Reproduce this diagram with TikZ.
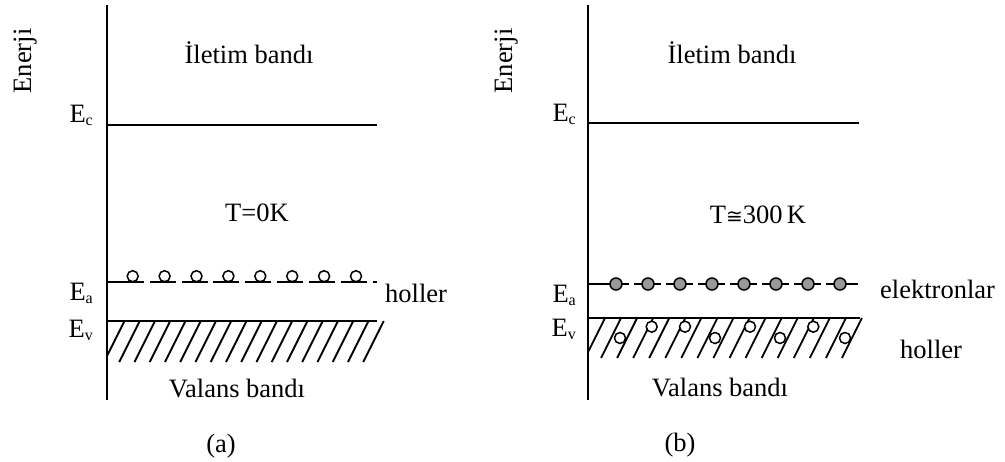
\documentclass[tikz,border=0pt]{standalone}
\usepackage{fontspec}
\setmainfont{Liberation Serif}
\newfontfamily\symfnt{DejaVu Sans}
\newcommand{\Esub}[1]{E\raisebox{-3pt}{\fontsize{16}{16}\selectfont #1}}
\begin{document}
\begin{tikzpicture}[x=1pt,y=-1pt,
  lbl/.style={font=\fontsize{26.5}{30}\selectfont, inner sep=0pt, anchor=base},
  lblE/.style={lbl, anchor=base east},
  lblW/.style={lbl, anchor=base west},
  axisline/.style={line width=2.6pt},
  bandline/.style={line width=2.4pt},
  accline/.style={line width=2pt},
  hatchline/.style={line width=1.8pt},
  hole/.style={circle, draw, fill=white, line width=1.5pt, minimum size=11pt, inner sep=0pt},
  electron/.style={circle, draw, fill=gray!85!black!70, line width=1.5pt, minimum size=12pt, inner sep=0pt}]
\useasboundingbox (0,0) rectangle (1005,461);

% ===== panel (a) =====
\coordinate (a-top) at (107,5);
\coordinate (a-bot) at (107,400);
\coordinate (a-ec1) at (107,125);
\coordinate (a-ec2) at (377,125);
\coordinate (a-ev1) at (107,321);
\coordinate (a-ev2) at (377,321);
\draw[axisline] (a-top) -- (a-bot);
\draw[bandline] (a-ec1) -- (a-ec2);
\draw[bandline] (a-ev1) -- (a-ev2);
% hatch
\begin{scope}
\clip (107,300) rectangle (420,380);
\foreach \k in {0,...,17}{
  \draw[hatchline] ({104+15.25*\k},362) -- ({124.5+15.25*\k},321);
}
\end{scope}
% acceptor level with holes
\coordinate (a-ea1) at (107,282);
\coordinate (a-ea2) at (143.7,282);
\draw[accline] (a-ea1) -- (a-ea2);
\foreach \i in {1,...,7}{
  \coordinate (a-s\i) at ({132.7+31.9*\i-15},282);
  \coordinate (a-e\i) at ({132.7+31.9*\i+11},282);
  \draw[accline] (a-s\i) -- (a-e\i);
}
\coordinate (a-last1) at (373,282);
\coordinate (a-last2) at (377,282);
\draw[accline] (a-last1) -- (a-last2);
\foreach \i in {0,...,7}{
  \node[hole] (a-h\i) at ({132.7+31.9*\i},276.2) {};
}
% labels
\node[lbl, rotate=90] (a-en) at (31,61) {Enerji};
\node[lbl] (a-il) at (249,63) {İletim bandı};
\node[lblE] (a-Ec) at (93,122) {\Esub{c}};
\node[lbl] (a-T) at (257,221) {T=0K};
\node[lblE] (a-Ea) at (93,300) {\Esub{a}};
\node[lblE] (a-Ev) at (93,337) {\Esub{v}};
\node[lblW] (a-hol) at (385,302) {holler};
\node[lbl] (a-val) at (237,397) {Valans bandı};
\node[lbl] (a-cap) at (221,452) {(a)};

% ===== panel (b) =====
\coordinate (b-top) at (588,5);
\coordinate (b-bot) at (588,400);
\coordinate (b-ec1) at (588,123);
\coordinate (b-ec2) at (859,123);
\coordinate (b-ev1) at (588,318);
\coordinate (b-ev2) at (860,318);
\draw[axisline] (b-top) -- (b-bot);
\draw[bandline] (b-ec1) -- (b-ec2);
\draw[bandline] (b-ev1) -- (b-ev2);
\begin{scope}
\clip (588,300) rectangle (900,380);
\foreach \k in {0,...,16}{
  \draw[hatchline] ({585+16.06*\k},358) -- ({605+16.06*\k},318);
}
\end{scope}
% holes in valence band
\node[hole] (b-h1) at (620,338) {};
\node[hole] (b-h2) at (651.7,326.7) {};
\node[hole] (b-h3) at (685,326.7) {};
\node[hole] (b-h4) at (715,338) {};
\node[hole] (b-h5) at (750,326.7) {};
\node[hole] (b-h6) at (780,338) {};
\node[hole] (b-h7) at (813.3,326.7) {};
\node[hole] (b-h8) at (845,338) {};
% acceptor level with electrons
\coordinate (b-ea1) at (588,284);
\coordinate (b-ea2) at (629,284);
\draw[accline] (b-ea1) -- (b-ea2);
\foreach \i in {1,...,6}{
  \coordinate (b-s\i) at ({616+32*\i-14},284);
  \coordinate (b-e\i) at ({616+32*\i+13},284);
  \draw[accline] (b-s\i) -- (b-e\i);
}
\coordinate (b-l1) at (826,284);
\coordinate (b-l2) at (858,284);
\draw[accline] (b-l1) -- (b-l2);
\foreach \i in {0,...,7}{
  \node[electron] (b-el\i) at ({616+32*\i},284) {};
}
% labels
\node[lbl, rotate=90] (b-en) at (512,61) {Enerji};
\node[lbl] (b-il) at (732,63) {İletim bandı};
\node[lblE] (b-Ec) at (576,121) {\Esub{c}};
\node[lbl] (b-T) at (758,223) {T{\symfnt\fontsize{20}{24}\selectfont ≅}300\,K};
\node[lblE] (b-Ea) at (576,302) {\Esub{a}};
\node[lblE] (b-Ev) at (576,336) {\Esub{v}};
\node[lblW] (b-el) at (880,298) {elektronlar};
\node[lblW] (b-hol) at (900,358) {holler};
\node[lbl] (b-val) at (720,396) {Valans bandı};
\node[lbl] (b-cap) at (680,451) {(b)};
\end{tikzpicture}
\end{document}
